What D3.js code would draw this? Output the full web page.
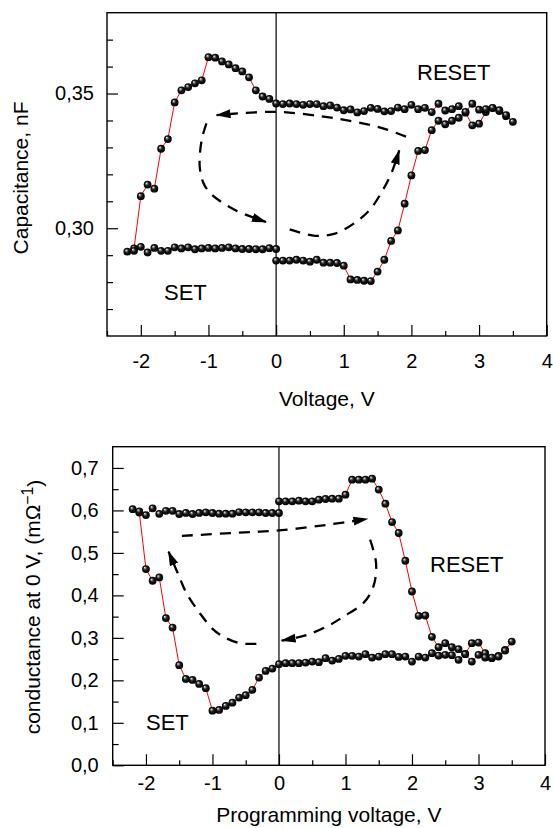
<!DOCTYPE html>
<html><head><meta charset="utf-8">
<script src="https://cdn.jsdelivr.net/npm/d3@7"></script>
<style>
body{margin:0;background:#fff}
svg{display:block}
text{font-family:"Liberation Sans",Arial,Helvetica,sans-serif;fill:#000}
</style>
</head><body>
<svg id="chart" width="553" height="828"></svg>
<script>
// ---------- DATA (measurement order) ----------
const capV = [
 0.0,0.1,0.2,0.3,0.4,0.5,0.6,0.7,0.8,0.9,1.0,1.1,1.2,1.3,1.4,1.5,1.6,1.7,1.8,1.9,2.0,2.1,2.2,2.3,2.4,2.5,2.6,2.7,2.8,2.9,3.0,3.1,3.2,3.3,3.4,3.5,
 3.4,3.3,3.2,3.1,3.0,2.9,2.8,2.7,2.6,2.5,2.4,2.3,2.2,2.1,2.0,1.9,1.8,1.7,1.6,1.5,1.4,1.3,1.2,1.1,1.0,0.9,0.8,0.7,0.6,0.5,0.4,0.3,0.2,0.1,0.0,
 -0.1,-0.2,-0.3,-0.4,-0.5,-0.6,-0.7,-0.8,-0.9,-1.0,-1.1,-1.2,-1.3,-1.4,-1.5,-1.6,-1.7,-1.8,-1.9,-2.0,-2.1,-2.2,
 -2.1,-2.0,-1.9,-1.8,-1.7,-1.6,-1.5,-1.4,-1.3,-1.2,-1.1,-1.0,-0.9,-0.8,-0.7,-0.6,-0.5,-0.4,-0.3,-0.2,-0.1,0.0
];
const capC = [
 0.2880,0.2880,0.2880,0.2883,0.2880,0.2876,0.2883,0.2872,0.2872,0.2871,0.2861,0.2810,0.2808,0.2805,0.2804,0.2839,0.2883,0.2953,0.2992,0.3091,0.3196,0.3287,0.3290,0.3364,0.3399,0.3386,0.3399,0.3410,0.3429,0.3382,0.3388,0.3431,0.3446,0.3435,0.3416,0.3395,
 0.3420,0.3438,0.3447,0.3442,0.3440,0.3462,0.3432,0.3453,0.3442,0.3437,0.3462,0.3431,0.3447,0.3442,0.3458,0.3442,0.3448,0.3435,0.3434,0.3443,0.3447,0.3435,0.3430,0.3441,0.3438,0.3448,0.3456,0.3453,0.3461,0.3461,0.3458,0.3461,0.3463,0.3461,0.3463,
 0.3480,0.3489,0.3512,0.3560,0.3582,0.3594,0.3608,0.3619,0.3633,0.3635,0.3549,0.3538,0.3524,0.3512,0.3467,0.3331,0.3295,0.3147,0.3162,0.3119,0.2925,0.2913,
 0.2916,0.2931,0.2910,0.2927,0.2916,0.2916,0.2929,0.2925,0.2929,0.2922,0.2925,0.2927,0.2925,0.2927,0.2929,0.2925,0.2923,0.2923,0.2922,0.2922,0.2926,0.2923
];
const condV = [
 0.0,0.1,0.2,0.3,0.4,0.5,0.6,0.7,0.8,0.9,1.0,1.1,1.2,1.3,1.4,1.5,1.6,1.7,1.8,1.9,2.0,2.1,2.2,2.3,2.4,2.5,2.6,2.7,2.8,2.9,3.0,3.1,3.2,3.3,3.4,3.5,
 3.4,3.3,3.2,3.1,3.0,2.9,2.8,2.7,2.6,2.5,2.4,2.3,2.2,2.1,2.0,1.9,1.8,1.7,1.6,1.5,1.4,1.3,1.2,1.1,1.0,0.9,0.8,0.7,0.6,0.5,0.4,0.3,0.2,0.1,0.0,
 -0.1,-0.2,-0.3,-0.4,-0.5,-0.6,-0.7,-0.8,-0.9,-1.0,-1.1,-1.2,-1.3,-1.4,-1.5,-1.6,-1.7,-1.8,-1.9,-2.0,-2.1,-2.2,
 -2.1,-2.0,-1.9,-1.8,-1.7,-1.6,-1.5,-1.4,-1.3,-1.2,-1.1,-1.0,-0.9,-0.8,-0.7,-0.6,-0.5,-0.4,-0.3,-0.2,-0.1,0.0
];
const condG = [
 0.6213,0.6213,0.6213,0.6229,0.6213,0.6213,0.6253,0.6269,0.6276,0.6276,0.6370,0.6724,0.6724,0.6724,0.6748,0.6490,0.6158,0.5726,0.5468,0.4815,0.4091,0.3519,0.3526,0.3024,0.2780,0.2875,0.2780,0.2734,0.2623,0.2875,0.2890,0.2640,0.2522,0.2576,0.2717,0.2913,
 0.2700,0.2560,0.2537,0.2537,0.2600,0.2442,0.2616,0.2482,0.2592,0.2600,0.2584,0.2640,0.2537,0.2560,0.2442,0.2560,0.2552,0.2616,0.2616,0.2560,0.2537,0.2616,0.2560,0.2576,0.2576,0.2505,0.2465,0.2522,0.2427,0.2442,0.2418,0.2404,0.2404,0.2404,0.2380,
 0.2277,0.2222,0.2065,0.1775,0.1650,0.1594,0.1475,0.1398,0.1303,0.1287,0.1815,0.1916,0.2010,0.2034,0.2357,0.3243,0.3465,0.4422,0.4344,0.4620,0.5950,0.6030,
 0.5977,0.5890,0.6050,0.5920,0.5990,0.5990,0.5916,0.5940,0.5916,0.5940,0.5954,0.5939,0.5923,0.5923,0.5923,0.5960,0.5954,0.5954,0.5954,0.5939,0.5939,0.5939
];

// tick values / labels
const xMajorTicks = [-2,-1,0,1,2,3,4];
const xMinorTicks = [-2.5,-1.5,-0.5,0.5,1.5,2.5,3.5];
const capMajorTicks = [0.30,0.35];
const capMinorTicks = [0.27,0.28,0.29,0.31,0.32,0.33,0.34,0.36,0.37];
const condMajorTicks = [0.0,0.1,0.2,0.3,0.4,0.5,0.6,0.7];
const condMinorTicks = [0.05,0.15,0.25,0.35,0.45,0.55,0.65];

// annotation (dashed arrows) paths in data coordinates
const capArrows = [
 [[1.92,0.3340],[1.58,0.3371],[1.17,0.3395],[0.70,0.3414],[0.0,0.3432],[-0.88,0.3420]],
 [[-1.03,0.3389],[-1.10,0.3328],[-1.13,0.3230],[-1.075,0.3168],[-0.98,0.3132],[-0.83,0.3101],[-0.58,0.3064],[-0.15,0.3023]],
 [[0.20,0.2996],[0.58,0.2972],[0.87,0.2980],[1.17,0.3021],[1.39,0.3070],[1.56,0.3134],[1.71,0.3208],[1.82,0.3289]]
];
const condArrows = [
 [[-1.46,0.540],[-0.69,0.547],[0.0,0.553],[0.72,0.566],[1.33,0.580]],
 [[1.37,0.531],[1.46,0.476],[1.42,0.421],[1.27,0.382],[0.97,0.350],[0.77,0.331],[0.42,0.307],[0.04,0.2937]],
 [[-0.34,0.286],[-0.59,0.2875],[-0.84,0.303],[-0.99,0.320],[-1.19,0.358],[-1.39,0.405],[-1.51,0.448],[-1.66,0.503]]
];

// ---------- DRAW ----------
const svg = d3.select("#chart");
const defs = svg.append("defs");
const grad = defs.append("radialGradient").attr("id","ball")
  .attr("cx","50%").attr("cy","50%").attr("r","50%").attr("fx","33%").attr("fy","30%");
grad.append("stop").attr("offset","0%").attr("stop-color","#ffffff");
grad.append("stop").attr("offset","22%").attr("stop-color","#8a8a8a");
grad.append("stop").attr("offset","50%").attr("stop-color","#1a1a1a");
grad.append("stop").attr("offset","100%").attr("stop-color","#000000");
defs.append("marker").attr("id","arrowhead")
  .attr("markerUnits","userSpaceOnUse")
  .attr("markerWidth",16).attr("markerHeight",10)
  .attr("refX",14).attr("refY",4.5).attr("orient","auto")
  .append("path").attr("d","M0,0 L15,4.5 L0,9 Z").attr("fill","#000");

function panel(cfg){
  const x = d3.scaleLinear().domain([-2.5,4]).range([cfg.left,cfg.right]);
  const y = d3.scaleLinear().domain(cfg.yDomain).range([cfg.bottom,cfg.top]);
  const g = svg.append("g");

  // x axis major
  g.append("g").attr("transform",`translate(0,${cfg.bottom})`)
    .call(d3.axisBottom(x).tickValues(xMajorTicks).tickSize(-11).tickPadding(cfg.xPad).tickFormat(d3.format("d")))
    .call(a=>{a.select(".domain").remove();a.selectAll("line").attr("stroke","#000").attr("stroke-width",1.2);
      a.selectAll("text").attr("font-size",cfg.tickFont).attr("font-family",'"Liberation Sans",Arial,sans-serif').text(d=>String(d).replace("−","-"));});
  g.append("g").attr("transform",`translate(0,${cfg.bottom})`)
    .call(d3.axisBottom(x).tickValues(xMinorTicks).tickSize(-5).tickFormat(""))
    .call(a=>{a.select(".domain").remove();a.selectAll("line").attr("stroke","#000").attr("stroke-width",1.2);});

  // y axis
  g.append("g").attr("transform",`translate(${cfg.left},0)`)
    .call(d3.axisLeft(y).tickValues(cfg.yMajor).tickSize(-11).tickPadding(cfg.yPad).tickFormat(d=>d3.format(cfg.yFmt)(d).replace(".",",")))
    .call(a=>{a.select(".domain").remove();a.selectAll("line").attr("stroke","#000").attr("stroke-width",1.2);
      a.selectAll("text").attr("font-size",cfg.tickFont).attr("font-family",'"Liberation Sans",Arial,sans-serif');});
  g.append("g").attr("transform",`translate(${cfg.left},0)`)
    .call(d3.axisLeft(y).tickValues(cfg.yMinor).tickSize(-6).tickFormat(""))
    .call(a=>{a.select(".domain").remove();a.selectAll("line").attr("stroke","#000").attr("stroke-width",1.2);});

  // frame
  g.append("rect").attr("x",cfg.left).attr("y",cfg.top)
    .attr("width",cfg.right-cfg.left).attr("height",cfg.bottom-cfg.top)
    .attr("fill","none").attr("stroke","#000").attr("stroke-width",1.4);
  // zero line
  g.append("line").attr("x1",x(0)).attr("x2",x(0)).attr("y1",cfg.top).attr("y2",cfg.bottom)
    .attr("stroke","#000").attr("stroke-width",1.2);

  // dashed arrows
  const aline = d3.line().x(d=>x(d[0])).y(d=>y(d[1])).curve(d3.curveCatmullRom.alpha(0.5));
  cfg.arrows.forEach(p=>{
    g.append("path").attr("d",aline(p)).attr("fill","none").attr("stroke","#000")
      .attr("stroke-width",2.3).attr("stroke-dasharray","11,8").attr("marker-end","url(#arrowhead)");
  });

  // data
  const pts = cfg.xs.map((v,i)=>[v,cfg.ys[i]]);
  g.append("path").attr("d",d3.line().x(d=>x(d[0])).y(d=>y(d[1]))(pts))
    .attr("fill","none").attr("stroke","#ff0000").attr("stroke-width",1);
  g.selectAll("circle.pt").data(pts).join("circle").attr("class","pt")
    .attr("cx",d=>x(d[0])).attr("cy",d=>y(d[1])).attr("r",3.9).attr("fill","url(#ball)");

  // labels
  cfg.labels.forEach(l=>{
    g.append("text").attr("x",l.x).attr("y",l.y).attr("font-size",cfg.labelFont).text(l.t);
  });
  // x title
  g.append("text").attr("x",(cfg.left+cfg.right)/2).attr("y",cfg.xTitleY)
    .attr("text-anchor","middle").attr("font-size",cfg.titleFont).text(cfg.xTitle);
  // y title
  const yt = g.append("text").attr("transform",`translate(${cfg.yTitleX},${cfg.yTitleY}) rotate(-90)`)
    .attr("text-anchor","middle").attr("font-size",cfg.titleFont);
  cfg.yTitle(yt);
}

panel({
  left:107, right:546.7, top:12.7, bottom:336,
  yDomain:[0.26,0.38], yMajor:capMajorTicks, yMinor:capMinorTicks, yFmt:".2f",
  xPad:18, yPad:13, tickFont:20, labelFont:22, titleFont:21,
  xs:capV, ys:capC, arrows:capArrows,
  labels:[{x:417,y:80,t:"RESET"},{x:164,y:300,t:"SET"}],
  xTitle:"Voltage, V", xTitleY:406,
  yTitleX:28, yTitleY:178,
  yTitle:t=>t.text("Capacitance, nF")
});
panel({
  left:112.7, right:545, top:446.7, bottom:765.3,
  yDomain:[0,0.75], yMajor:condMajorTicks, yMinor:condMinorTicks, yFmt:".1f",
  xPad:11, yPad:14, tickFont:20, labelFont:22, titleFont:21,
  xs:condV, ys:condG, arrows:condArrows,
  labels:[{x:430,y:572,t:"RESET"},{x:146,y:730,t:"SET"}],
  xTitle:"Programming voltage, V", xTitleY:822,
  yTitleX:40, yTitleY:607,
  yTitle:t=>{t.append("tspan").text("conductance at 0 V, (mΩ");
    t.append("tspan").attr("dy","-0.45em").attr("font-size","0.75em").text("−1");
    t.append("tspan").attr("dy","0.45em").text(")");}
});
</script>
</body></html>
